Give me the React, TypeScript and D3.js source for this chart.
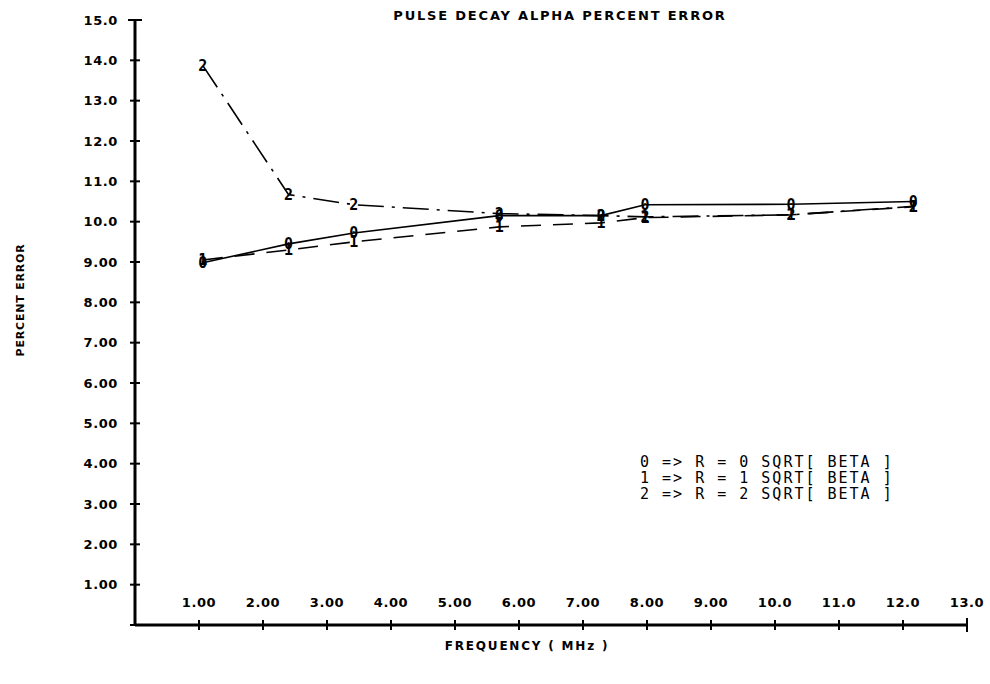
import React, { useEffect, useRef } from 'react';
import * as d3 from 'd3';

// frequency (MHz) of each measurement
const freqs = [1.06, 2.4, 3.42, 5.69, 7.28, 7.97, 10.25, 12.16];

// percent error for each R setting
const series0 = [8.98, 9.45, 9.72, 10.15, 10.15, 10.42, 10.43, 10.5];
const series1 = [9.05, 9.3, 9.5, 9.87, 9.97, 10.1, 10.17, 10.37];
const series2 = [13.87, 10.67, 10.42, 10.2, 10.15, 10.12, 10.17, 10.38];

const seriesNames = ['0', '1', '2'];
const legendLines = [
  '0 => R = 0 SQRT[ BETA ]',
  '1 => R = 1 SQRT[ BETA ]',
  '2 => R = 2 SQRT[ BETA ]'
];

const xTicks = [1, 2, 3, 4, 5, 6, 7, 8, 9, 10, 11, 12, 13];
const yTicks = [1, 2, 3, 4, 5, 6, 7, 8, 9, 10, 11, 12, 13, 14, 15];

const title = 'PULSE DECAY ALPHA PERCENT ERROR';
const xTitle = 'FREQUENCY ( MHz )';
const yTitle = 'PERCENT ERROR';

function App() {
  const chartRef = useRef<SVGSVGElement>(null);

  const width = 990;
  const height = 684;

  useEffect(() => {
    const svg = d3.select(chartRef.current);
    svg.selectAll('*').remove();

    const xScale = d3.scaleLinear().domain([0, 13]).range([135, 967]);
    const yScale = d3.scaleLinear().domain([0, 15]).range([625, 20]);
    const fmt = d3.format('.3r');
    const boldFont = '"DejaVu Sans", sans-serif';

    // title
    svg.append('text')
      .attr('x', 560).attr('y', 20)
      .attr('text-anchor', 'middle')
      .attr('font-family', boldFont)
      .attr('font-weight', 'bold')
      .attr('font-size', 13)
      .attr('letter-spacing', 1.8)
      .text(title);

    // axes lines
    svg.append('line')
      .attr('x1', xScale(0)).attr('x2', xScale(0))
      .attr('y1', yScale(0)).attr('y2', yScale(15))
      .attr('stroke', '#000').attr('stroke-width', 3);
    svg.append('line')
      .attr('x1', xScale(0)).attr('x2', xScale(13))
      .attr('y1', yScale(0)).attr('y2', yScale(0))
      .attr('stroke', '#000').attr('stroke-width', 3);

    // y ticks
    const yt = svg.append('g');
    yTicks.forEach(v => {
      const half = v === 15 ? 7 : 5;
      yt.append('line')
        .attr('x1', xScale(0) - half).attr('x2', xScale(0) + half)
        .attr('y1', yScale(v)).attr('y2', yScale(v))
        .attr('stroke', '#000').attr('stroke-width', 2);
      yt.append('text')
        .attr('x', 118).attr('y', yScale(v))
        .attr('dy', '0.35em')
        .attr('text-anchor', 'end')
        .attr('font-family', boldFont)
        .attr('font-weight', 'bold')
        .attr('font-size', 13)
        .attr('letter-spacing', 0.6)
        .text(fmt(v));
    });
    yt.append('line')
      .attr('x1', xScale(0) - 5).attr('x2', xScale(0) + 5)
      .attr('y1', yScale(0)).attr('y2', yScale(0))
      .attr('stroke', '#000').attr('stroke-width', 2);

    // x ticks
    const xt = svg.append('g');
    xTicks.forEach(v => {
      const half = v === 13 ? 7 : 5;
      xt.append('line')
        .attr('x1', xScale(v)).attr('x2', xScale(v))
        .attr('y1', yScale(0) - half).attr('y2', yScale(0) + half)
        .attr('stroke', '#000').attr('stroke-width', 2);
      xt.append('text')
        .attr('x', xScale(v)).attr('y', 607)
        .attr('text-anchor', 'middle')
        .attr('font-family', boldFont)
        .attr('font-weight', 'bold')
        .attr('font-size', 13)
        .attr('letter-spacing', 0.6)
        .text(fmt(v));
    });

    // axis titles
    svg.append('text')
      .attr('x', 527).attr('y', 650)
      .attr('text-anchor', 'middle')
      .attr('font-family', boldFont)
      .attr('font-weight', 'bold')
      .attr('font-size', 12)
      .attr('letter-spacing', 1.8)
      .text(xTitle);
    svg.append('text')
      .attr('transform', `translate(24, 300) rotate(-90)`)
      .attr('text-anchor', 'middle')
      .attr('font-family', boldFont)
      .attr('font-weight', 'bold')
      .attr('font-size', 11)
      .attr('letter-spacing', 0.8)
      .text(yTitle);

    // lines
    const line = d3.line<number>()
      .x((d, i) => xScale(freqs[i]))
      .y(d => yScale(d));

    const allSeries = [series0, series1, series2];
    const dashes = [null, '20,12', '26,8,3,8'];

    allSeries.forEach((s, k) => {
      svg.append('path')
        .datum(s)
        .attr('fill', 'none')
        .attr('stroke', '#000')
        .attr('stroke-width', 1.6)
        .attr('stroke-dasharray', dashes[k])
        .attr('d', line);
    });

    allSeries.forEach((s, k) => {
      svg.append('g')
        .selectAll('text')
        .data(s)
        .join('text')
        .attr('x', (d, i) => xScale(freqs[i]))
        .attr('y', d => yScale(d))
        .attr('dy', '0.36em')
        .attr('text-anchor', 'middle')
        .attr('font-family', '"DejaVu Sans Mono", monospace')
        .attr('font-weight', 'bold')
        .attr('font-size', 15)
        .text(seriesNames[k]);
    });

    // legend
    legendLines.forEach((t, i) => {
      svg.append('text')
        .attr('x', 640).attr('y', 467 + i * 16)
        .attr('font-family', '"DejaVu Sans Mono", monospace')
        .attr('font-size', 15)
        .attr('letter-spacing', 2)
        .attr('xml:space', 'preserve')
        .style('white-space', 'pre')
        .text(t);
    });

// eslint-disable-next-line
  }, []);

  return (
    <svg ref={chartRef} width={width} height={height}
      style={{ position: 'absolute', left: 0, top: 0, background: '#fff' }} />
  );
}

export default App;
